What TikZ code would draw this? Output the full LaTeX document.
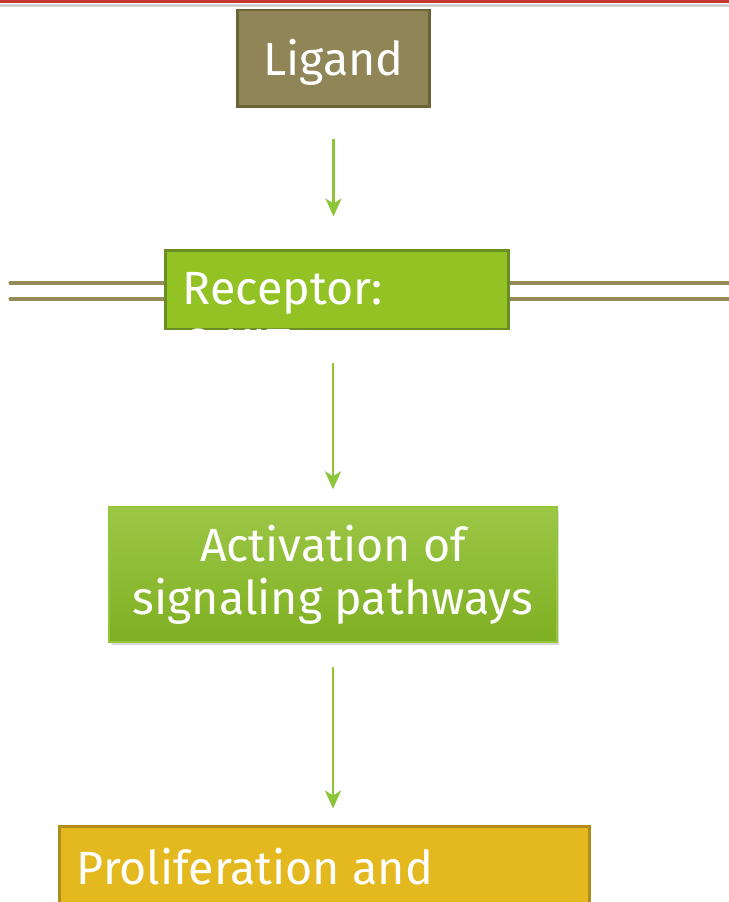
\documentclass[tikz,border=0pt]{standalone}
\usepackage{fontspec}
\setmainfont{Fira Sans}
\usetikzlibrary{arrows.meta,shadows,positioning}

\definecolor{topred}{HTML}{C0392B}
\definecolor{ligfill}{HTML}{8F8556}
\definecolor{ligline}{HTML}{6B6238}
\definecolor{recfill}{HTML}{92C224}
\definecolor{recline}{HTML}{6B8E23}
\definecolor{acttop}{HTML}{9CC746}
\definecolor{actbot}{HTML}{7FAF22}
\definecolor{actline}{HTML}{94C73C}
\definecolor{profill}{HTML}{E4B91F}
\definecolor{proline}{HTML}{B08C1A}
\definecolor{arrgreen}{HTML}{8CC43A}
\definecolor{membcol}{HTML}{958A5A}

\begin{document}
\begin{tikzpicture}[x=0.02cm,y=-0.02cm,
	box/.style={draw,line width=1.7pt,inner sep=0pt,text=white,font=\fontsize{26.5}{30}\selectfont},
	boxtext/.style={anchor=north west,inner sep=0pt,align=left,text=white,font=\fontsize{26.5}{32}\selectfont},
	flow/.style={-{Stealth[length=0.36cm,width=0.32cm,inset=0.1cm]},line width=1.7pt,arrgreen},
	membrane/.style={line width=1.8pt,membcol,line cap=round}]
	\def\mA{283} % upper membrane line
	\def\mB{299} % lower membrane line
	\useasboundingbox (0,0) rectangle (729,902);
	
	\fill[topred,drop shadow={shadow xshift=0cm,shadow yshift=-0.08cm,opacity=0.35}] (0,0) rectangle (729,3);
	
	\draw[membrane] (10,\mA) -- (166,\mA) (10,\mB) -- (166,\mB);
	\draw[membrane,line cap=butt] (508,\mA) -- (729,\mA) (508,\mB) -- (729,\mB);
	
	\node[box,fill=ligfill,draw=ligline,minimum width=3.86cm,minimum height=1.94cm,text height=0.9cm,text depth=0.2cm] (lig) at (333.5,58.5) {Ligand};
	\node[box,fill=recfill,draw=recline,minimum width=6.88cm,minimum height=1.58cm] (rec) at (337,289.5) {};
	\node[boxtext] (rectext) at ([xshift=0.38cm,yshift=-0.48cm]rec.north west) {Receptor:\\C-KIT};
	\node[box,draw=actline,line width=0.8pt,top color=acttop,bottom color=actbot,minimum width=8.96cm,minimum height=2.7cm,align=center,
		drop shadow={shadow xshift=0.05cm,shadow yshift=-0.07cm,opacity=0.3}] (act) at (333,574.5) {Activation of\\signaling pathways};
	\node[box,fill=profill,draw=proline,minimum width=10.62cm,minimum height=2.4cm] (pro) at (324.5,886) {};
	\node[boxtext] (protext) at ([xshift=0.38cm,yshift=-0.46cm]pro.north west) {Proliferation and};
	
	\draw[flow,shorten <=0.62cm,shorten >=0.64cm] (lig.south) -- (lig.south |- rec.north);
	\draw[flow,shorten <=0.66cm,shorten >=0.34cm] (act.north |- rec.south) -- (act.north);
	\draw[flow,shorten <=0.48cm,shorten >=0.32cm] (act.south) -- (act.south |- pro.north);
\end{tikzpicture}
\end{document}
